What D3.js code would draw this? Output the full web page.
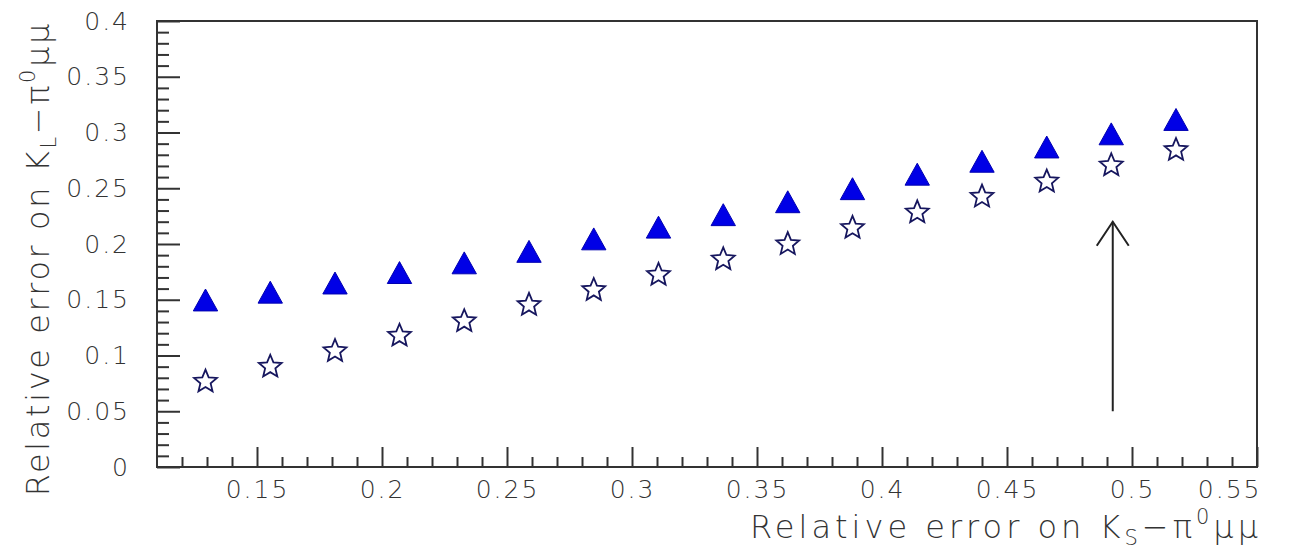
<!DOCTYPE html>
<html>
<head>
<meta charset="utf-8">
<script src="https://cdn.jsdelivr.net/npm/d3@7"></script>
<style>
  html, body { margin: 0; padding: 0; background: #ffffff; }
  svg { display: block; }
  text { font-family: "DejaVu Sans", "Liberation Sans", sans-serif; font-weight: 200; fill: #333333; }
</style>
</head>
<body>
<svg id="chart" width="1293" height="551"></svg>
<script>
// ---- data ----
const ksError = [0.1294, 0.1553, 0.1812, 0.2070, 0.2329, 0.2588, 0.2847, 0.3106,
                 0.3365, 0.3623, 0.3882, 0.4141, 0.4400, 0.4659, 0.4917, 0.5176];
const klErrorTriangle = [0.1498, 0.1568, 0.1650, 0.1744, 0.1831, 0.1934, 0.2046, 0.2151,
                         0.2263, 0.2379, 0.2496, 0.2626, 0.2742, 0.2870, 0.2988, 0.3117];
const klErrorStar = [0.0776, 0.0910, 0.1050, 0.1188, 0.1318, 0.1464, 0.1598, 0.1734,
                     0.1873, 0.2009, 0.2155, 0.2294, 0.2435, 0.2571, 0.2716, 0.2854];
const xTickValues = [0.15, 0.2, 0.25, 0.3, 0.35, 0.4, 0.45, 0.5, 0.55];
const xTickLabels = ["0.15", "0.2", "0.25", "0.3", "0.35", "0.4", "0.45", "0.5", "0.55"];
const yTickValues = [0, 0.05, 0.1, 0.15, 0.2, 0.25, 0.3, 0.35, 0.4];
const yTickLabels = ["0", "0.05", "0.1", "0.15", "0.2", "0.25", "0.3", "0.35", "0.4"];
const arrowX = [0.4923];
const arrowY = [0.05, 0.22];

// ---- layout ----
const L = 157, R = 1257, T = 21, B = 467;
const svg = d3.select("#chart");
const x = d3.scaleLinear().domain([0.11, 0.55]).range([L, R]);
const y = d3.scaleLinear().domain([0, 0.4]).range([B, T]);

const minorX = d3.range(12, 56).map(v => v / 100).filter(v => !xTickValues.some(t => Math.abs(t - v) < 1e-9));
const minorY = d3.range(1, 40).map(v => v / 100).filter(v => !yTickValues.some(t => Math.abs(t - v) < 1e-9));

const frameColor = "#333333";
const textColor = "#333333";

// frame
svg.append("rect").attr("x", L).attr("y", T).attr("width", R - L).attr("height", B - T)
  .attr("fill", "none").attr("stroke", frameColor).attr("stroke-width", 2);

// x axis
const gx = svg.append("g").attr("transform", `translate(0,${B})`);
gx.append("g").call(d3.axisBottom(x).tickValues(minorX).tickSize(-10).tickFormat(""))
  .call(g => g.select(".domain").remove());
gx.append("g").call(d3.axisBottom(x).tickValues(xTickValues).tickSize(-20).tickPadding(13)
    .tickFormat((d, i) => xTickLabels[i]))
  .call(g => g.select(".domain").remove());
gx.selectAll("line").attr("stroke", frameColor).attr("stroke-width", 2);
gx.selectAll("text").attr("font-size", 25).attr("font-family", null).attr("fill", textColor)
  .attr("letter-spacing", 2);
gx.selectAll(".tick text").filter((d) => d === 0.55).attr("text-anchor", "end").attr("dx", 4);

// y axis
const gy = svg.append("g").attr("transform", `translate(${L},0)`);
gy.append("g").call(d3.axisLeft(y).tickValues(minorY).tickSize(-12).tickFormat(""))
  .call(g => g.select(".domain").remove());
gy.append("g").call(d3.axisLeft(y).tickValues(yTickValues).tickSize(-23).tickPadding(27)
    .tickFormat((d, i) => yTickLabels[i]))
  .call(g => g.select(".domain").remove());
gy.selectAll("line").attr("stroke", frameColor).attr("stroke-width", 2);
gy.selectAll("text").attr("font-size", 25).attr("font-family", null).attr("fill", textColor)
  .attr("letter-spacing", 2);

// custom symbols
const triangleType = {
  draw(ctx, size) {
    const w = Math.sqrt(size) * 1.1, h = w * 0.9;
    ctx.moveTo(0, -h / 2); ctx.lineTo(w / 2, h / 2); ctx.lineTo(-w / 2, h / 2); ctx.closePath();
  }
};
const starType = {
  draw(ctx, size) {
    const r = Math.sqrt(size) / 2, ri = r * 0.45;
    for (let k = 0; k < 10; k++) {
      const a = -Math.PI / 2 + k * Math.PI / 5;
      const rr = k % 2 === 0 ? r : ri;
      const px = rr * Math.cos(a), py = rr * Math.sin(a) + r * 0.1;
      if (k === 0) ctx.moveTo(px, py); else ctx.lineTo(px, py);
    }
    ctx.closePath();
  }
};

svg.append("g").selectAll("path").data(ksError).join("path")
  .attr("transform", (d, i) => `translate(${x(d)},${y(klErrorTriangle[i])})`)
  .attr("d", d3.symbol().type(triangleType).size(490))
  .attr("fill", "#0000e6").attr("stroke", "#0000b0").attr("stroke-width", 1);

svg.append("g").selectAll("path").data(ksError).join("path")
  .attr("transform", (d, i) => `translate(${x(d)},${y(klErrorStar[i])})`)
  .attr("d", d3.symbol().type(starType).size(576))
  .attr("fill", "none").attr("stroke", "#16165e").attr("stroke-width", 1.8)
  .attr("stroke-linejoin", "miter");

// arrow
const ax = x(arrowX[0]), ay0 = y(arrowY[0]), ay1 = y(arrowY[1]);
const arrow = svg.append("g").attr("stroke", "#222").attr("stroke-width", 2).attr("fill", "none");
arrow.append("line").attr("x1", ax).attr("x2", ax).attr("y1", ay0).attr("y2", ay1);
arrow.append("path").attr("d", `M${ax - 16},${ay1 + 24}L${ax},${ay1}L${ax + 16},${ay1 + 24}`);

// axis titles
function title(sel, sub) {
  sel.append("tspan").text("Relative error on K");
  sel.append("tspan").attr("font-size", 21).attr("dy", 7).text(sub);
  sel.append("tspan").attr("dy", -7).text("\u2212\u03C0");
  sel.append("tspan").attr("font-size", 21).attr("dy", -14).text("0");
  sel.append("tspan").attr("dy", 14).text("\u03BC\u03BC");
}
const xt = svg.append("text").attr("x", 1262).attr("y", 538).attr("text-anchor", "end")
  .attr("font-size", 32).attr("letter-spacing", 4.0);
title(xt, "S");

const yt = svg.append("text").attr("transform", `translate(49,${T}) rotate(-90)`).attr("text-anchor", "end")
  .attr("font-size", 32).attr("letter-spacing", 2.6);
title(yt, "L");
</script>
</body>
</html>
